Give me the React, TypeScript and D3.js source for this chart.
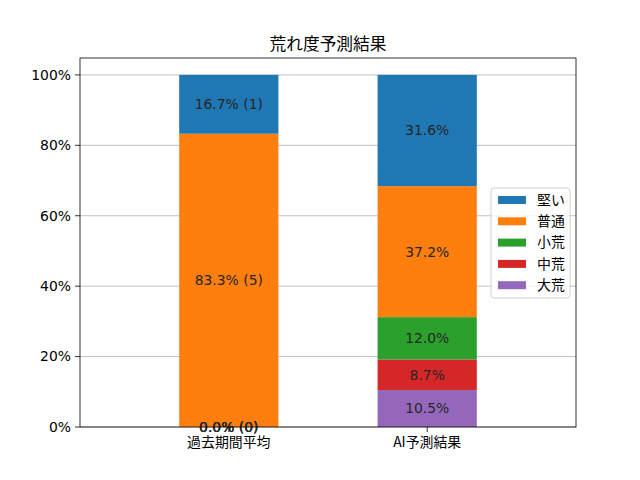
import * as d3 from 'd3';

const categories = ['過去期間平均', 'AI予測結果'];
const seriesNames = ['大荒', '中荒', '小荒', '普通', '堅い'];
const seriesColors = ['#9467bd', '#d62728', '#2ca02c', '#ff7f0e', '#1f77b4'];
// percentages per series (bottom to top), one value per category
const pastValues = [0, 0, 0, 83.3, 16.7];
const aiValues = [10.5, 8.7, 12.0, 37.2, 31.6];
const pastCounts = [0, 0, 0, 5, 1];
const yTicks = [0, 20, 40, 60, 80, 100];

const W = 640;
const H = 480;
const JP = '"Noto Sans CJK JP", sans-serif';
const NUM = '"DejaVu Sans", sans-serif';

export default function App() {
    const x = d3.scaleLinear().domain([-0.75, 1.75]).range([80, 576]);
    const y = d3.scaleLinear().domain([0, 104.8]).range([427, 58]);
    const barW = x(0.5) - x(0);

    const columns = [pastValues, aiValues];

    const segments = columns.flatMap((vals, ci) => {
        let acc = 0;
        return vals.map((v, si) => {
            const y0 = acc;
            acc += v;
            const label = ci === 0 ? `${v.toFixed(1)}% (${pastCounts[si]})` : `${v.toFixed(1)}%`;
            return { ci, si, y0, y1: acc, v, label };
        });
    });

    return (
        <svg width={W} height={H} style={{ position: 'absolute', left: 0, top: 0 }}>
            <rect width={W} height={H} fill="#fff" />
            {/* grid */}
            {yTicks.map((t) => (
                <line key={'g' + t} x1={80} x2={576} y1={y(t)} y2={y(t)} stroke="#b0b0b0" strokeWidth={0.8} />
            ))}
            {/* bars */}
            {segments.map((s) => (
                <rect
                    key={`b${s.ci}-${s.si}`}
                    x={x(s.ci) - barW / 2}
                    width={barW}
                    y={y(s.y1)}
                    height={y(s.y0) - y(s.y1)}
                    fill={seriesColors[s.si]}
                />
            ))}
            {/* labels */}
            {segments.map((s) => (
                <text
                    key={`t${s.ci}-${s.si}`}
                    x={x(s.ci)}
                    y={y((s.y0 + s.y1) / 2)}
                    dy="0.35em"
                    textAnchor="middle"
                    fontFamily={NUM}
                    fontSize={13.9}
                    fill="#262626"
                >
                    {s.label}
                </text>
            ))}
            {/* frame */}
            <rect x={80} y={58} width={496} height={369} fill="none" stroke="#000" strokeWidth={0.8} />
            {/* y axis ticks */}
            {yTicks.map((t) => (
                <g key={'y' + t}>
                    <line x1={75} x2={80} y1={y(t)} y2={y(t)} stroke="#000" strokeWidth={0.8} />
                    <text x={71} y={y(t)} dy="0.35em" textAnchor="end" fontFamily={NUM} fontSize={13.9} fill="#000">
                        {t}%
                    </text>
                </g>
            ))}
            {/* x axis ticks */}
            {categories.map((c, i) => (
                <g key={c}>
                    <line x1={x(i)} x2={x(i)} y1={427} y2={432} stroke="#000" strokeWidth={0.8} />
                    <text x={x(i)} y={447} textAnchor="middle" fontFamily={JP} fontSize={13.9} fill="#000">
                        {c}
                    </text>
                </g>
            ))}
            {/* title */}
            <text x={328} y={50} textAnchor="middle" fontFamily={JP} fontSize={16.7} fill="#000">
                荒れ度予測結果
            </text>
            {/* legend */}
            <rect x={491} y={188} width={79} height={110} rx={3} fill="#fff" fillOpacity={0.8} stroke="#d0d0d0" />
            {[...seriesNames].reverse().map((n, i) => {
                const si = seriesNames.length - 1 - i;
                const cy = 200 + i * 21.3;
                return (
                    <g key={n}>
                        <rect x={498} y={cy - 4} width={28} height={8} fill={seriesColors[si]} />
                        <text x={537} y={cy} dy="0.35em" fontFamily={JP} fontSize={13.9} fill="#000">
                            {n}
                        </text>
                    </g>
                );
            })}
        </svg>
    );
}
